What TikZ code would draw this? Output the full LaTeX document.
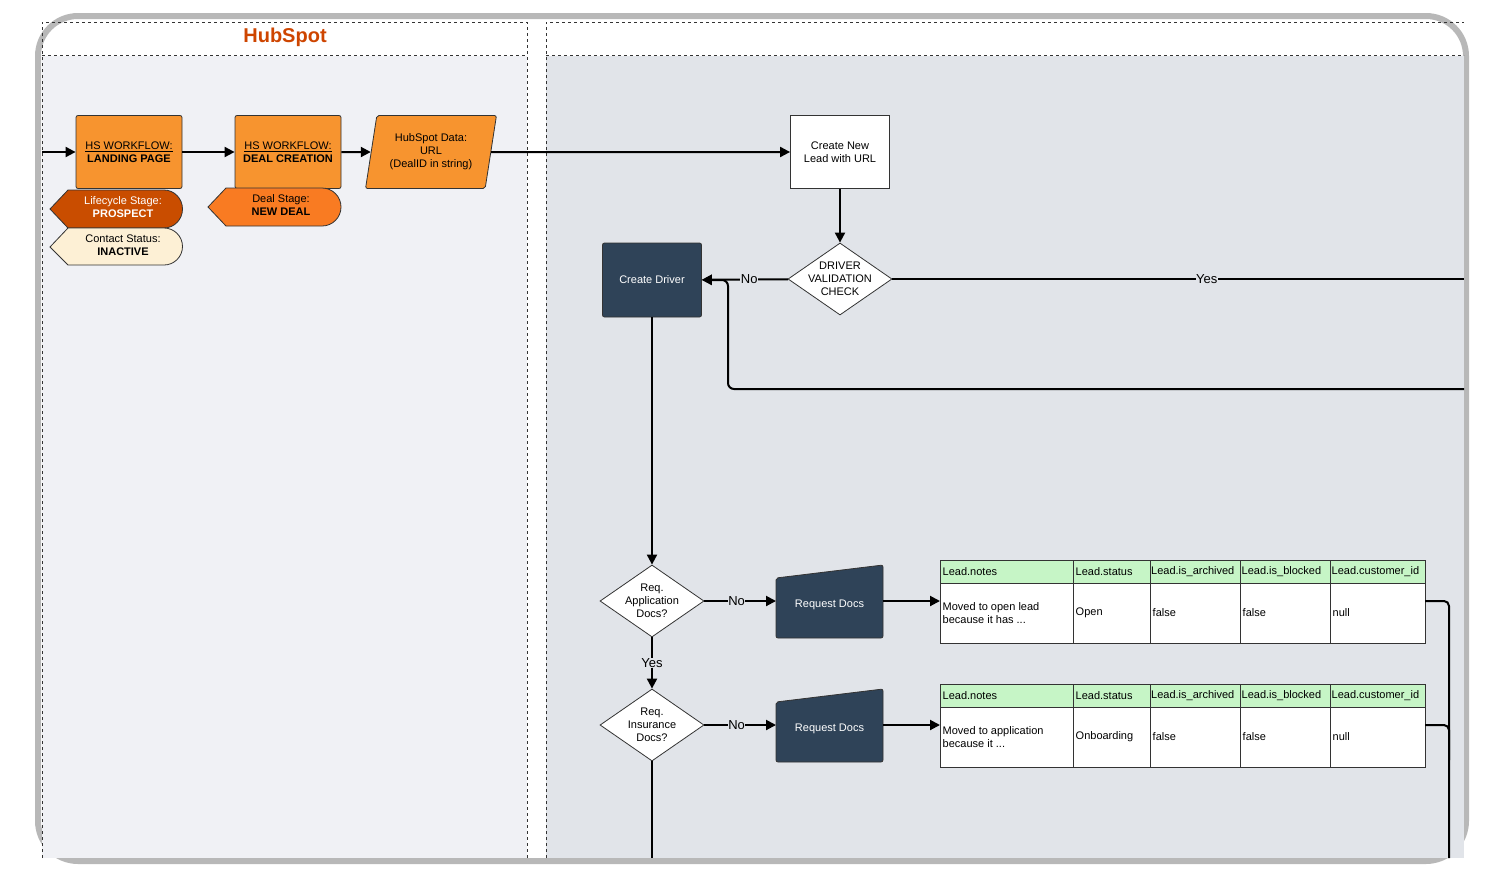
\documentclass[tikz,border=0pt]{standalone}
\usepackage{fontspec}
\setmainfont{Liberation Sans}
\usetikzlibrary{shapes.geometric,arrows.meta}
\definecolor{orng}{HTML}{F7942F}
\definecolor{dorng}{HTML}{C94D00}
\definecolor{morng}{HTML}{F97B22}
\definecolor{cream}{HTML}{FDF0D5}
\definecolor{navy}{HTML}{2F4358}
\definecolor{lgreen}{HTML}{C6F5C6}
\definecolor{lane1}{HTML}{F0F1F5}
\definecolor{lane2}{HTML}{E1E4E9}
\begin{document}
\begin{tikzpicture}[x=1pt,y=-1pt,
  txt/.style={font=\fontsize{11}{13}\selectfont,align=center},
  wf/.style={txt,draw=black!80,line width=0.8pt,fill=orng,rounded corners=2pt,minimum width=106pt,minimum height=73pt,inner sep=1pt},
  wbox/.style={txt,draw=black!80,line width=0.8pt,fill=white,minimum width=99pt,minimum height=73pt},
  dbox/.style={txt,draw=black!80,line width=0.8pt,fill=navy,text=white,rounded corners=2pt,minimum width=99pt,minimum height=74pt},
  dia/.style={txt,diamond,draw=black!80,line width=0.8pt,fill=white,minimum width=104pt,minimum height=72pt,inner sep=-5pt,aspect=1.45},
  ar/.style={-{Triangle[length=10pt,width=10pt]},line width=2pt},
  ln/.style={line width=2pt},
  lbl/.style={font=\fontsize{13}{15}\selectfont,fill=lane2,inner sep=0.5pt},
  cell/.style={font=\fontsize{11}{13}\selectfont,anchor=west,inner sep=2.5pt,align=left}]
\useasboundingbox (0,0) rectangle (1500,884);
% frame
\draw[line width=6pt,black!28,rounded corners=40pt,fill=white] (38,16) rectangle (1466,861);
\fill[lane1] (42,56) rectangle (527,858);
\fill[lane2] (546,56) rectangle (1464,858);
\draw[dashed,black!80,line width=0.8pt] (42,858) -- (42,22) -- (527,22) -- (527,858);
\draw[dashed,black!80,line width=0.8pt] (42,55) -- (527,55);
\draw[dashed,black!80,line width=0.8pt] (546,858) -- (546,22) -- (1464,22);
\draw[dashed,black!80,line width=0.8pt] (546,55) -- (1464,55);
\node[font=\bfseries\fontsize{20}{22}\selectfont,text=dorng!90!red] (title) at (285,37) {HubSpot};
% left lane
\coordinate (in) at (42,152);
\node[wf] (lp) at (129,152) {\underline{HS WORKFLOW:}\\\textbf{LANDING PAGE}};
\node[wf] (dc) at (288,152) {\underline{HS WORKFLOW:}\\\textbf{DEAL CREATION}};
\node[txt,trapezium,trapezium left angle=77,trapezium right angle=103,draw=black!80,line width=0.8pt,fill=orng,minimum width=131pt,minimum height=73pt,inner sep=1pt,trapezium stretches=true,rounded corners=2pt] (hd) at (431,152) {HubSpot Data:\\URL\\(DealID in string)};
\draw[ar] (in) -- (lp);
\draw[ar] (lp) -- (dc);
\draw[ar] (dc) -- (hd);
% tags
\draw[draw=black!80,line width=0.8pt,fill=dorng] (50,209) -- (68,190) -- (164,190) arc(90:-90:18.5pt and 19pt) -- (68,228) -- cycle;
\node[txt,text=white] (lc) at (123,207) {Lifecycle Stage:\\\textbf{PROSPECT}};
\draw[draw=black!80,line width=0.8pt,fill=cream] (50,247) -- (68,228) -- (164,228) arc(90:-90:18.5pt and 18.5pt) -- (68,265) -- cycle;
\node[txt] (cs) at (123,245) {Contact Status:\\\textbf{INACTIVE}};
\draw[draw=black!80,line width=0.8pt,fill=morng] (208,207) -- (226,188) -- (322,188) arc(90:-90:19pt and 19pt) -- (226,226) -- cycle;
\node[txt] (ds) at (281,205) {Deal Stage:\\\textbf{NEW DEAL}};
% right lane
\node[wbox] (cl) at (840,152) {Create New\\Lead with URL};
\draw[ar] (hd) -- (cl);
\node[dia] (dv) at (840,279) {DRIVER\\VALIDATION\\CHECK};
\draw[ar] (cl) -- (dv);
\node[dbox] (cd) at (652,280) {Create Driver};
\draw[ar] (dv) -- node[lbl,pos=0.45]{No} (cd);
\coordinate (ye) at (1464,279);
\draw[ln] (dv) -- node[lbl,pos=0.55]{Yes} (ye);
\coordinate (lb) at (1464,389);
\draw[ar,rounded corners=6pt] (lb) -- (728,389) -- (728,280) -- (cd.east);
\node[dia] (d1) at (652,601) {Req.\\Application\\Docs?};
\node[dia] (d2) at (652,725) {Req.\\Insurance\\Docs?};
\draw[ar] (cd) -- (d1);
\draw[ar] (d1) -- node[lbl]{Yes} (d2);
\coordinate (b2) at (652,858);
\draw[ln] (d2) -- (b2);
% request docs
\foreach \n/\y in {r1/565,r2/689}{
  \draw[draw=black!80,line width=0.8pt,fill=navy,rounded corners=2pt] (776,\y+13) -- (883,\y) -- (883,\y+73) -- (776,\y+73) -- cycle;
  \node[txt,text=white] (\n) at (829.5,\y+40) {Request Docs};
}
\draw[ar] (d1.east) -- node[lbl,pos=0.45]{No} (d1.east -| 776,0);
\draw[ar] (d2.east) -- node[lbl,pos=0.45]{No} (d2.east -| 776,0);
% tables
\foreach \t/\y/\note/\st in {t1/560/{Moved to open lead\\because it has ...}/Open, t2/684/{Moved to application\\because it ...}/Onboarding}{
  \fill[lgreen] (940,\y) rectangle (1425,\y+23);
  \fill[white] (940,\y+23) rectangle (1425,\y+83);
  \draw[black!80,line width=0.8pt] (940,\y) rectangle (1425,\y+83);
  \draw[black!80,line width=0.8pt] (940,\y+23) -- (1425,\y+23);
  \foreach \cx in {1073,1150,1240,1330} \draw[black!80,line width=0.8pt] (\cx,\y) -- (\cx,\y+83);
  \node[cell] at (940,\y+11.5) {Lead.notes};
  \node[cell] at (1073,\y+11.5) {Lead.status};
  \node[cell,inner sep=1pt] at (1150,\y+11.5) {Lead.is\_archived};
  \node[cell,inner sep=1.5pt] at (1240,\y+11.5) {Lead.is\_blocked};
  \node[cell,inner sep=1.5pt] at (1330,\y+11.5) {Lead.customer\_id};
  \node[cell] at (940,\y+53) {\note};
  \node[cell] at (1073,\y+53) {\st};
  \node[cell] at (1150,\y+53) {false};
  \node[cell] at (1240,\y+53) {false};
  \node[cell] at (1330,\y+53) {null};
  \coordinate (\t) at (940,\y+41);
}
\draw[ar] (883,601) -- (t1);
\draw[ar] (883,725) -- (t2);
\coordinate (e1) at (1449,858);
\draw[ln,rounded corners=5pt] (1425,601) -- (1449,601) -- (e1);
\draw[ln,rounded corners=5pt] (1425,725) -- (1449,725) -- (1449,760);
\end{tikzpicture}
\end{document}
